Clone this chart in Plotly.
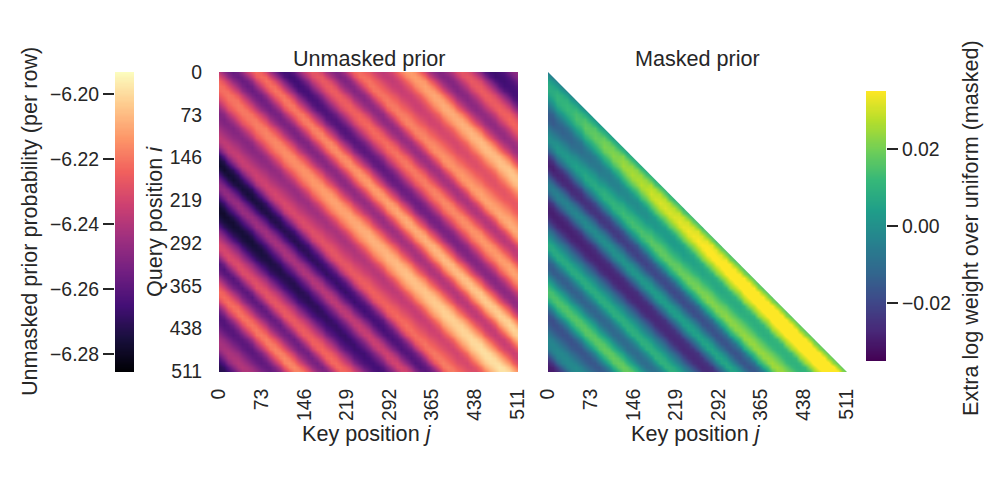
import numpy as np
import plotly.graph_objects as go

W, H = 996, 477
FONT = "Liberation Sans"
INK = "#262626"

n_positions = 512
grid_step = 8
tick_positions = [0, 73, 146, 219, 292, 365, 438, 511]
tick_labels = [str(t) for t in tick_positions]

# value of the unmasked prior along each stripe, read per offset i-j = -512, -504, ... 512
# (thousandths below -6)
unmasked_stripes = [
 271,274,279,285,288,289,288,283,273,263,254,249,247,250,257,264,269,270,266,259,249,239,231,228,
 229,233,240,246,250,251,249,245,240,236,233,234,241,252,260,262,258,251,242,236,235,239,246,256,
 265,271,272,268,258,247,236,227,225,229,238,249,257,259,255,248,238,230,223,221,222,226,232,241,
 248,252,251,248,244,240,237,239,246,259,271,276,278,273,264,254,248,248,256,266,273,278,278,275,
 270,261,251,243,236,232,233,242,254,262,260,254,244,234,226,222,224,233,244,255,261,262,259,254,
 248,244,242,244,251,261,268,272,272]
# brightening along a stripe, read per key position j = 0, 16, ... 512 (thousandths)
unmasked_key_gain = [0,1,2,2,3,4,5,6,6,7,8,9,10,10,11,12,13,13,14,15,16,16,17,18,19,19,20,21,22,22,23,24,24]

# masked prior per offset i-j = 0, 8, ... 512 (thousandths)
masked_stripes = [
 -6,1,6,8,8,5,0,-6,-12,-15,-15,-12,-7,-3,0,-1,-7,-15,-23,-28,-29,-26,-18,-10,-5,-6,-12,-21,-27,-29,-29,
 -27,-21,-14,-7,-1,5,8,6,-3,-11,-15,-14,-8,0,7,13,15,13,6,-4,-13,-18,-18,-15,-11,-6,-3,-3,-5,-13,-22,-28,-30,-30]
masked_key_gain = [0,2,3,5,7,8,10,11,13,14,15,17,18,18,19,20,21,22,22,23,23,24,24,24,25,25,25,25,25,25,26,26,26]
# how strongly that gain shows, read per offset i-j = 0, 16, ... 512
masked_gain_weight = [.9,1.2,1.3,1.2,1.0,1.0,1.0,1.0,.9,.6,.5,.5,.5,.3,.15,.1,.1,.1,.1,.2,.3,.3,.3,.3,.3,.3,.3,.3,.3,.3,.3,.3,.3]

unmasked_range = [-6.2855, -6.1932]
masked_range = [-0.035, 0.035]
unmasked_ticks = [-6.28, -6.26, -6.24, -6.22, -6.20]
masked_ticks = [-0.02, 0.0, 0.02]

axis_values = list(range(0, n_positions + 1, grid_step))
m = len(axis_values)
unmasked = [[None] * m for _ in range(m)]
masked = [[None] * m for _ in range(m)]
for r in range(m):
    for c in range(m):
        gain = unmasked_key_gain[c // 2]
        unmasked[r][c] = -6 - (unmasked_stripes[r - c + m - 1] - gain) / 1000
        if r - c >= -2:
            off = max(r - c, 0)
            masked[r][c] = (masked_stripes[off] + masked_gain_weight[off // 2] * masked_key_gain[c // 2]) / 1000


def px_x(a, b):
    return [a / W, b / W]


def px_y(top, bottom):
    return [1 - bottom / H, 1 - top / H]


fig = go.Figure()
fig.add_trace(go.Heatmap(x=axis_values, y=axis_values, z=unmasked, colorscale="Magma",
                         zmin=unmasked_range[0], zmax=unmasked_range[1], zsmooth="best",
                         showscale=False, xaxis="x", yaxis="y"))
fig.add_trace(go.Heatmap(x=axis_values, y=axis_values, z=masked, colorscale="Viridis",
                         zmin=masked_range[0], zmax=masked_range[1], zsmooth="best",
                         showscale=False, xaxis="x2", yaxis="y2"))
lv1 = np.linspace(*unmasked_range, 256)
fig.add_trace(go.Heatmap(x=[0], y=lv1, z=[[v] for v in lv1], colorscale="Magma",
                         zmin=unmasked_range[0], zmax=unmasked_range[1],
                         showscale=False, xaxis="x3", yaxis="y3"))
lv2 = np.linspace(*masked_range, 256)
fig.add_trace(go.Heatmap(x=[0], y=lv2, z=[[v] for v in lv2], colorscale="Viridis",
                         zmin=masked_range[0], zmax=masked_range[1],
                         showscale=False, xaxis="x4", yaxis="y4"))

tf = dict(family=FONT, size=19.4, color=INK)
main_x = dict(range=[0, n_positions], tickmode="array", tickvals=tick_positions, ticktext=tick_labels,
              tickangle=-90, tickfont=tf, ticks="outside", ticklen=8, tickcolor="rgba(0,0,0,0)",
              showgrid=False, zeroline=False, showline=False, automargin=False)
fig.update_layout(
    width=W, height=H, margin=dict(l=0, r=0, t=0, b=0), autosize=False, template="none",
    paper_bgcolor="white", plot_bgcolor="white", showlegend=False,
    xaxis=dict(domain=px_x(219, 518), anchor="y", **main_x),
    xaxis2=dict(domain=px_x(548, 847), anchor="y2", **main_x),
    yaxis=dict(domain=px_y(72, 372), anchor="x", range=[n_positions, 0], tickmode="array",
               tickvals=tick_positions, ticktext=tick_labels, tickfont=tf, ticks="outside", ticklen=12,
               tickcolor="rgba(0,0,0,0)", showgrid=False, zeroline=False, showline=False, automargin=False),
    yaxis2=dict(domain=px_y(72, 372), anchor="x2", range=[n_positions, 0], showticklabels=False,
                ticks="", showgrid=False, zeroline=False, showline=False, automargin=False),
    xaxis3=dict(domain=px_x(115, 134), anchor="y3", range=[-0.5, 0.5], visible=False, automargin=False),
    yaxis3=dict(domain=px_y(72, 372), anchor="x3", range=unmasked_range, side="left", tickmode="array",
                tickvals=unmasked_ticks, ticktext=["\u2212%.2f" % abs(t) for t in unmasked_ticks], tickfont=tf,
                ticks="outside", ticklen=11, tickwidth=1.5, tickcolor=INK,
                showgrid=False, zeroline=False, showline=False, automargin=False),
    xaxis4=dict(domain=px_x(866, 886), anchor="y4", range=[-0.5, 0.5], visible=False, automargin=False),
    yaxis4=dict(domain=px_y(91, 361), anchor="x4", range=masked_range, side="right", tickmode="array",
                tickvals=masked_ticks, ticktext=["\u22120.02", "0.00", "0.02"], tickfont=tf,
                ticks="outside", ticklen=11, tickwidth=1.5, tickcolor=INK,
                showgrid=False, zeroline=False, showline=False, automargin=False),
    shapes=[dict(type="path", xref="x2", yref="y2", layer="above", fillcolor="white", line_width=0,
                 path=f"M 0 0 L {n_positions} 0 L {n_positions} {n_positions} Z"),
            dict(type="rect", xref="x2", yref="y2", layer="above", fillcolor="white", line_width=0,
                 x0=n_positions, x1=n_positions + 20, y0=0, y1=n_positions)],
)


def label(text, x, y, size, angle=0):
    fig.add_annotation(text=text, x=x / W, y=1 - y / H, xref="paper", yref="paper", showarrow=False,
                       textangle=angle, xanchor="center", yanchor="middle",
                       font=dict(family=FONT, size=size, color=INK))


label("Unmasked prior", 369, 58, 21.6)
label("Masked prior", 697, 58, 21.6)
label("Key position <i>j</i>", 367, 433, 21.6)
label("Key position <i>j</i>", 696, 433, 21.6)
label("Query position <i>i</i>", 154, 222, 21.6, -90)
label("Unmasked prior probability (per row)", 29, 222, 21.6, -90)
label("Extra log weight over uniform (masked)", 970, 228, 21.6, -90)

fig.write_html("out.html", config={"displayModeBar": False},
               post_script="document.body.style.margin='0';")
